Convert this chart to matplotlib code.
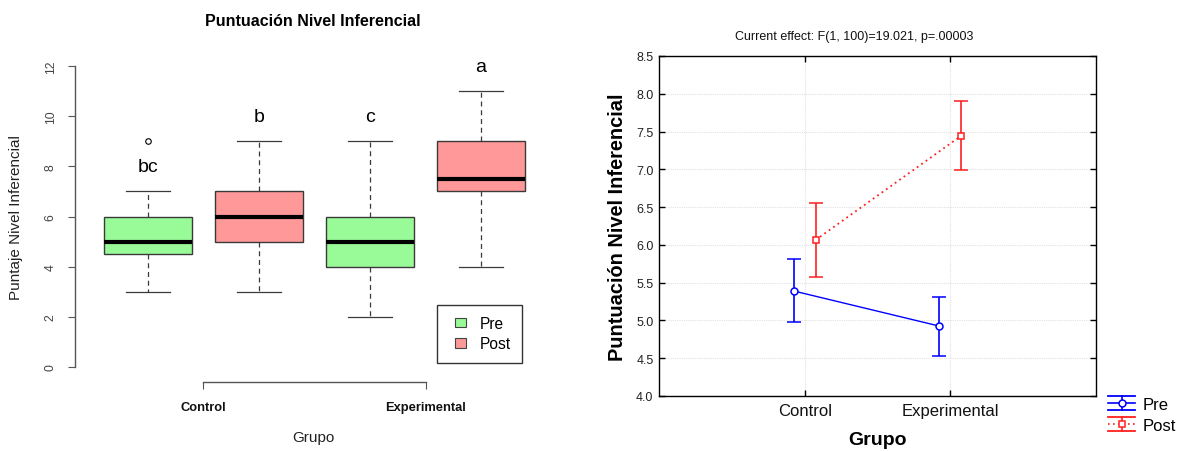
import numpy as np
import matplotlib
matplotlib.use("Agg")
import matplotlib.pyplot as plt
from matplotlib.patches import Patch, Rectangle
from matplotlib.lines import Line2D
from matplotlib.legend_handler import HandlerBase, HandlerPatch

plt.rcParams['font.family'] = ['Liberation Sans', 'DejaVu Sans']

# ---------------- data ----------------
# Left: boxplot summary per group x time
box_labels = ["Control Pre", "Control Post", "Experimental Pre", "Experimental Post"]
box_med = [5, 6, 5, 7.5]
box_q1 = [4.5, 5, 4, 7]
box_q3 = [6, 7, 6, 9]
box_lo = [3, 3, 2, 4]
box_hi = [7, 9, 9, 11]
box_fliers = [[9], [], [], []]
box_colors = ["#98FB98", "#FF9999", "#98FB98", "#FF9999"]
letters = ["bc", "b", "c", "a"]
letter_y = [8, 10, 10, 12]
group_labels = ["Control", "Experimental"]
yticks_left = [0, 2, 4, 6, 8, 10, 12]

# Right: means with confidence intervals
groups = ["Control", "Experimental"]
pre_mean = [5.39, 4.925]
pre_lo = [4.98, 4.535]
pre_hi = [5.81, 5.315]
post_mean = [6.065, 7.445]
post_lo = [5.575, 6.99]
post_hi = [6.555, 7.905]
yticks_right = [4.0, 4.5, 5.0, 5.5, 6.0, 6.5, 7.0, 7.5, 8.0, 8.5]

W, H = 1179, 452
fig = plt.figure(figsize=(W / 100, H / 100), dpi=100)

# ---------------- left panel ----------------
ax1 = fig.add_axes([74.7 / W, 1 - 380 / H, (554.3 - 74.7) / W, 325 / H])
stats = []
for i in range(4):
    stats.append(dict(med=box_med[i], q1=box_q1[i], q3=box_q3[i],
                      whislo=box_lo[i], whishi=box_hi[i], fliers=box_fliers[i],
                      label=box_labels[i]))
pos = np.arange(1, 5)
edge = "#3a3a3a"
bp = ax1.bxp(stats, positions=pos, widths=0.8, patch_artist=True, capwidths=0.4,
             boxprops=dict(edgecolor=edge, linewidth=1.0),
             whiskerprops=dict(color=edge, linewidth=0.9, linestyle=(0, (4, 3))),
             capprops=dict(color=edge, linewidth=0.9),
             medianprops=dict(color="black", linewidth=3, solid_capstyle="butt"),
             flierprops=dict(marker="o", markerfacecolor="none", markeredgecolor="black",
                             markersize=4, markeredgewidth=0.8))
for patch, c in zip(bp["boxes"], box_colors):
    patch.set_facecolor(c)

for p, lab, y in zip(pos, letters, letter_y):
    ax1.text(p, y, lab, ha="center", va="center", fontsize=14, color="black")

ax1.set_xlim(0.34, 4.66)
ax1.set_ylim(-0.48, 12.48)
for s in ["top", "right"]:
    ax1.spines[s].set_visible(False)
ax1.spines["left"].set_bounds(0, 12)
ax1.spines["bottom"].set_bounds(1.5, 3.5)
for s in ["left", "bottom"]:
    ax1.spines[s].set_color("#555555")
    ax1.spines[s].set_linewidth(1.0)
ax1.spines["bottom"].set_position(("outward", 2))
ax1.set_yticks(yticks_left)
ax1.set_yticklabels([str(v) for v in yticks_left], rotation=90, va="center",
                    fontsize=8.8, color="#444444")
ax1.set_xticks([1.5, 3.5])
ax1.set_xticklabels(group_labels, fontsize=9.3, fontweight="bold", color="#111111")
ax1.tick_params(axis="y", direction="out", length=5, pad=8, color="#555555")
ax1.tick_params(axis="x", direction="out", length=5, pad=9, color="#555555")
ax1.set_xlabel("Grupo", fontsize=11, color="#222222")
ax1.xaxis.set_label_coords(0.497, (380 - 438) / 325)
ax1.xaxis.label.set_va("center")
ax1.set_ylabel("Puntaje Nivel Inferencial", fontsize=11, color="#222222")
ax1.yaxis.set_label_coords((16 - 74.7) / 479.6, 0.5)
ax1.yaxis.label.set_va("center")

fig.text(313 / W, 1 - 22 / H, "Puntuación Nivel Inferencial", ha="center", va="center",
         fontsize=11.5, fontweight="bold")


def right_square(legend, orig_handle, xdescent, ydescent, width, height, fontsize):
    s = 0.72 * fontsize
    h = 0.6 * fontsize
    return Rectangle((-xdescent + width - s, -ydescent + (height - h) / 2), s, h)


leg_handles = [Patch(facecolor=box_colors[0], edgecolor="#444444", linewidth=0.8),
               Patch(facecolor=box_colors[1], edgecolor="#444444", linewidth=0.8)]
leg1 = ax1.legend(leg_handles, ["Pre", "Post"], loc="upper left",
                  bbox_to_anchor=(437 / W, 1 - 306 / H), bbox_transform=fig.transFigure,
                  borderaxespad=0, borderpad=0.72, fontsize=11.2, handlelength=1.15,
                  handleheight=0.7, handletextpad=0.9, labelspacing=0.33,
                  fancybox=False, framealpha=1, edgecolor="#333333",
                  handler_map={Patch: HandlerPatch(patch_func=right_square)})
leg1.get_frame().set_linewidth(1.0)

# ---------------- right panel ----------------
ax2 = fig.add_axes([659 / W, 1 - 397 / H, 437 / W, 340 / H])
x = np.arange(1, len(groups) + 1)
off = 0.075
pre_mean_a = np.array(pre_mean)
post_mean_a = np.array(post_mean)
ax2.errorbar(x - off, pre_mean_a,
             yerr=[pre_mean_a - np.array(pre_lo), np.array(pre_hi) - pre_mean_a],
             fmt="-o", color="#0000FF", lw=1.0, elinewidth=1.2, capsize=5, capthick=1.2,
             markersize=5, markerfacecolor="white", markeredgecolor="#0000FF",
             markeredgewidth=1.1, zorder=3)
ax2.errorbar(x + off, post_mean_a,
             yerr=[post_mean_a - np.array(post_lo), np.array(post_hi) - post_mean_a],
             fmt="s", color="#FF2020", elinewidth=1.2, capsize=5, capthick=1.2,
             markersize=5, markerfacecolor="white", markeredgecolor="#FF2020",
             markeredgewidth=1.1, zorder=3)
ax2.plot(x + off, post_mean_a, color="#FF2020", lw=1.3, linestyle=(0, (1, 2)), zorder=2)

ax2.set_xlim(0, 3)
ax2.set_ylim(4.0, 8.5)
ax2.set_xticks(x)
ax2.set_xticklabels(groups, fontsize=12, color="#111111")
ax2.set_yticks(yticks_right)
ax2.set_yticklabels([f"{v:.1f}" for v in yticks_right], fontsize=9, color="#222222")
ax2.tick_params(direction="in", length=4, top=True, right=True, width=1.0)
ax2.tick_params(axis="y", pad=4)
ax2.tick_params(axis="x", pad=5)
ax2.grid(True, color="#e2e2e2", linestyle=(0, (1, 1)), linewidth=0.8)
ax2.set_axisbelow(True)
for s in ax2.spines.values():
    s.set_color("black")
    s.set_linewidth(1.0)
ax2.set_xlabel("Grupo", fontsize=14, fontweight="bold")
ax2.xaxis.set_label_coords(0.5, (397 - 441) / 340)
ax2.xaxis.label.set_va("center")
ax2.set_ylabel("Puntuación Nivel Inferencial", fontsize=14.4, fontweight="bold")
ax2.yaxis.set_label_coords((617 - 659) / 437, 0.5)
ax2.yaxis.label.set_va("center")
fig.text(854 / W, 1 - 37 / H, "Current effect: F(1, 100)=19.021, p=.00003",
         ha="center", va="center", fontsize=9, color="#111111")


class ErrHandler(HandlerBase):
    def __init__(self, color, ls, marker):
        super().__init__()
        self.color, self.ls, self.marker = color, ls, marker

    def create_artists(self, legend, orig_handle, xdescent, ydescent, width, height,
                       fontsize, trans):
        x0, y0 = -xdescent, -ydescent
        xc, yc = x0 + width / 2, y0 + height / 2
        arts = [
            Line2D([x0, x0 + width], [yc, yc], color=self.color, linestyle=self.ls, lw=1.2),
            Line2D([x0, x0 + width], [y0 + height] * 2, color=self.color, lw=1.3),
            Line2D([x0, x0 + width], [y0, y0], color=self.color, lw=1.3),
            Line2D([xc, xc], [y0, y0 + height], color=self.color, lw=1.2),
            Line2D([xc], [yc], marker=self.marker, markersize=5, markerfacecolor="white",
                   markeredgecolor=self.color, markeredgewidth=1.1, linestyle="none"),
        ]
        for a in arts:
            a.set_transform(trans)
        return arts


h_pre = Line2D([], [], color="#0000FF")
h_post = Line2D([], [], color="#FF2020")
fig.legend([h_pre, h_post], ["Pre", "Post"], loc="upper left",
           bbox_to_anchor=(1108 / W, 1 - 397 / H), frameon=False, borderpad=0,
           borderaxespad=0, fontsize=12, handlelength=1.62, handleheight=0.96,
           handletextpad=0.45, labelspacing=0.28,
           handler_map={h_pre: ErrHandler("#0000FF", "-", "o"),
                        h_post: ErrHandler("#FF2020", (0, (1, 2)), "s")})

fig.savefig("out.png", dpi=100)
